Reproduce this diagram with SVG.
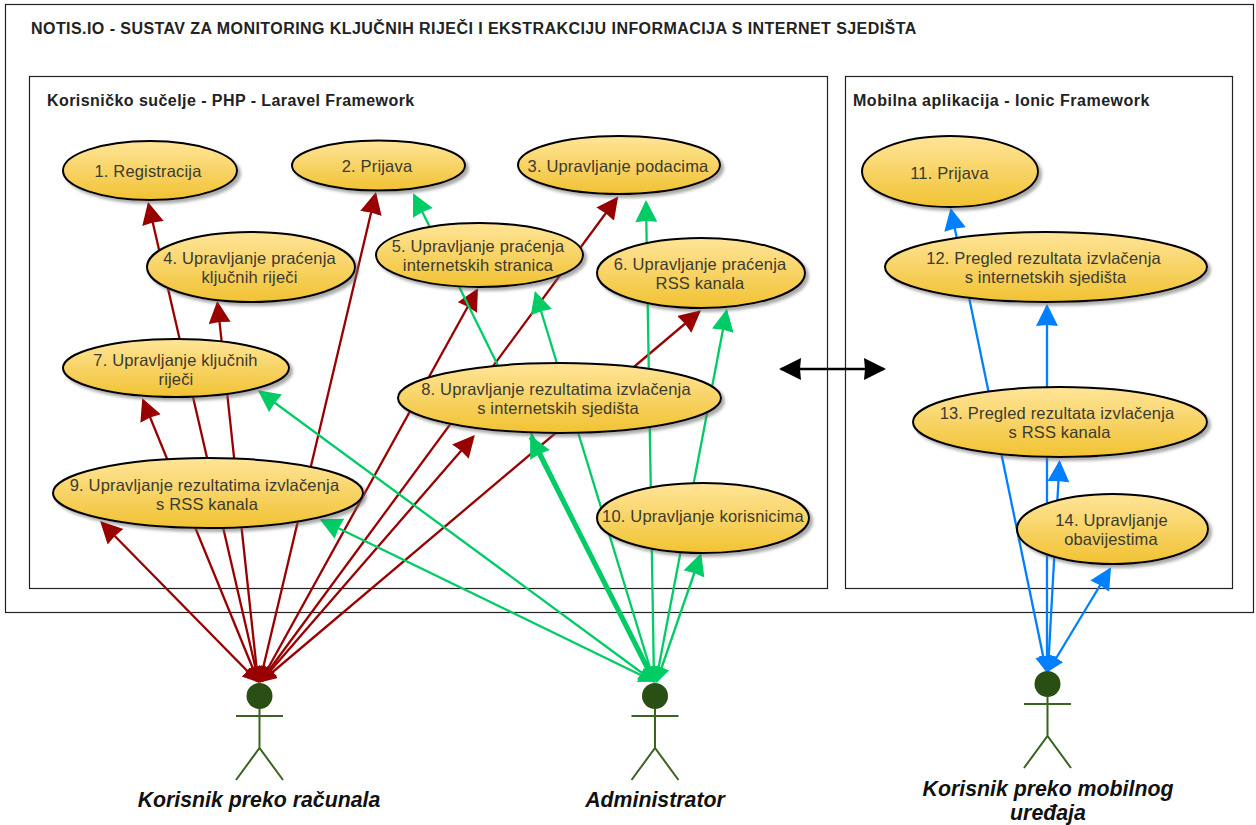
<svg xmlns="http://www.w3.org/2000/svg" width="1256" height="825" viewBox="0 0 1256 825">
<style>
text{font-family:"Liberation Sans",Arial,sans-serif}
.frame{fill:#fff;stroke:#222;stroke-width:1.2}
.t{font-size:16px;font-weight:bold;fill:#222;letter-spacing:.44px}
.uc{fill:url(#g);stroke:#000;stroke-width:2;filter:url(#s)}
.l{font-size:16.5px;fill:#3a3a30;text-anchor:middle;letter-spacing:.17px}
.c{fill:none;stroke-width:2.3}
.r{stroke:#990000;marker-start:url(#sr);marker-end:url(#mr)}
.gr{stroke:#00cc66;marker-start:url(#sg);marker-end:url(#mg)}
.b{stroke:#007fff;marker-start:url(#sb);marker-end:url(#mb)}
.k{stroke:#000;stroke-width:2.6;marker-start:url(#mk);marker-end:url(#mk)}
.a{fill:none;stroke:#3a6320;stroke-width:2}
.h{fill:#2a4f14}
.n{font-size:21.3px;font-weight:bold;font-style:italic;fill:#111;text-anchor:middle}
</style>
<defs>
<linearGradient id="g" x1="0" y1="0" x2="0" y2="1"><stop offset="0" stop-color="#ffe599"/><stop offset="1" stop-color="#f1c232"/></linearGradient>
<filter id="s" x="-10%" y="-15%" width="125%" height="135%"><feDropShadow dx="3" dy="3" stdDeviation="1.5" flood-color="#666" flood-opacity=".55"/></filter>
<marker id="mr" markerUnits="userSpaceOnUse" markerWidth="24" markerHeight="24" refX="20" refY="11" orient="auto-start-reverse"><path d="M0 0L22 11L0 22L1 11Z" fill="#990000"/></marker>
<marker id="mg" markerUnits="userSpaceOnUse" markerWidth="24" markerHeight="24" refX="20" refY="11" orient="auto-start-reverse"><path d="M0 0L22 11L0 22L1 11Z" fill="#00cc66"/></marker>
<marker id="mb" markerUnits="userSpaceOnUse" markerWidth="24" markerHeight="24" refX="20" refY="11" orient="auto-start-reverse"><path d="M0 0L22 11L0 22L1 11Z" fill="#007fff"/></marker>
<marker id="mk" markerUnits="userSpaceOnUse" markerWidth="24" markerHeight="24" refX="20" refY="11" orient="auto-start-reverse"><path d="M0 0L22 11L0 22L1 11Z" fill="#000"/></marker>
<marker id="sr" markerUnits="userSpaceOnUse" markerWidth="18" markerHeight="18" refX="14" refY="8" orient="auto-start-reverse"><path d="M0 0L16 8L0 16Z" fill="#990000"/></marker>
<marker id="sg" markerUnits="userSpaceOnUse" markerWidth="18" markerHeight="18" refX="14" refY="8" orient="auto-start-reverse"><path d="M0 0L16 8L0 16Z" fill="#00cc66"/></marker>
<marker id="sb" markerUnits="userSpaceOnUse" markerWidth="18" markerHeight="18" refX="14" refY="8" orient="auto-start-reverse"><path d="M0 0L16 8L0 16Z" fill="#007fff"/></marker>
</defs>
<rect width="1256" height="825" fill="#fff"/>
<g id="frames">
<rect class="frame" x="5.5" y="4.5" width="1248" height="608"/>
<text class="t" x="31" y="34">NOTIS.IO - SUSTAV ZA MONITORING KLJUČNIH RIJEČI I EKSTRAKCIJU INFORMACIJA S INTERNET SJEDIŠTA</text>
<rect class="frame" x="29.5" y="76.5" width="798" height="512"/>
<text class="t" x="47" y="106">Korisničko sučelje - PHP - Laravel Framework</text>
<rect class="frame" x="845.5" y="76.5" width="387" height="512"/>
<text class="t" x="853" y="106" style="letter-spacing:.52px">Mobilna aplikacija - Ionic Framework</text>
</g>
<g id="connectors">
<line class="c r" x1="258.5" y1="681" x2="148.5" y2="204"/>
<line class="c r" x1="260" y1="681" x2="375.5" y2="194"/>
<line class="c r" x1="261" y1="681" x2="617" y2="198"/>
<line class="c r" x1="258" y1="681" x2="217.5" y2="303"/>
<line class="c r" x1="261" y1="681" x2="477" y2="290"/>
<line class="c r" x1="262" y1="681" x2="699.5" y2="311.5"/>
<line class="c r" x1="258" y1="681" x2="143" y2="400"/>
<line class="c r" x1="261.5" y1="681" x2="473.5" y2="436.5"/>
<line class="c r" x1="257" y1="681" x2="101.5" y2="522.5"/>
<line class="c gr" x1="653" y1="681" x2="414" y2="195"/>
<line class="c gr" x1="654" y1="681" x2="646" y2="202"/>
<line class="c gr" x1="654" y1="681" x2="535.5" y2="293"/>
<line class="c gr" x1="656" y1="681" x2="726.5" y2="311"/>
<line class="c gr" x1="654" y1="681" x2="531" y2="437" style="stroke-width:5"/>
<line class="c gr" x1="653" y1="681" x2="259.5" y2="391.5"/>
<line class="c gr" x1="653" y1="681" x2="321.5" y2="520"/>
<line class="c gr" x1="657" y1="681" x2="700.5" y2="555"/>
<line class="c b" x1="1046" y1="670" x2="951" y2="210"/>
<line class="c b" x1="1047" y1="670" x2="1047" y2="306"/>
<line class="c b" x1="1048" y1="670" x2="1059.5" y2="462"/>
<line class="c b" x1="1049" y1="670" x2="1110" y2="569"/>
<line class="c k" x1="781" y1="369" x2="884" y2="369"/>
</g>
<g id="n1"><ellipse class="uc" cx="150" cy="170.5" rx="87" ry="29.5"/><text class="l" x="148" y="177">1. Registracija</text></g>
<g id="n2"><ellipse class="uc" cx="378.5" cy="165.5" rx="86.5" ry="25"/><text class="l" x="377" y="172">2. Prijava</text></g>
<g id="n3"><ellipse class="uc" cx="619" cy="165" rx="101" ry="29"/><text class="l" x="618" y="172">3. Upravljanje podacima</text></g>
<g id="n4"><ellipse class="uc" cx="251" cy="267" rx="104" ry="35"/><text class="l" x="249.5" y="264">4. Upravljanje praćenja</text><text class="l" x="249.5" y="283">ključnih riječi</text></g>
<g id="n5"><ellipse class="uc" cx="479.5" cy="255" rx="103.5" ry="32"/><text class="l" x="478" y="252">5. Upravljanje praćenja</text><text class="l" x="478" y="271">internetskih stranica</text></g>
<g id="n6"><ellipse class="uc" cx="701" cy="273" rx="104" ry="35"/><text class="l" x="700" y="270">6. Upravljanje praćenja</text><text class="l" x="700" y="289">RSS kanala</text></g>
<g id="n7"><ellipse class="uc" cx="176" cy="368" rx="113" ry="29"/><text class="l" x="175.5" y="366">7. Upravljanje ključnih</text><text class="l" x="176" y="385">riječi</text></g>
<g id="n8"><ellipse class="uc" cx="559.5" cy="398" rx="161.5" ry="35"/><text class="l" x="556" y="395">8. Upravljanje rezultatima izvlačenja</text><text class="l" x="558" y="414">s internetskih sjedišta</text></g>
<g id="n9"><ellipse class="uc" cx="208" cy="493" rx="155" ry="35"/><text class="l" x="204.5" y="491">9. Upravljanje rezultatima izvlačenja</text><text class="l" x="207" y="510">s RSS kanala</text></g>
<g id="n10"><ellipse class="uc" cx="703" cy="518" rx="106" ry="35"/><text class="l" x="703" y="522">10. Upravljanje korisnicima</text></g>
<g id="n11"><ellipse class="uc" cx="950" cy="171.5" rx="88" ry="35.5"/><text class="l" x="949.5" y="179">11. Prijava</text></g>
<g id="n12"><ellipse class="uc" cx="1046" cy="267" rx="161" ry="35"/><text class="l" x="1043.5" y="264">12. Pregled rezultata izvlačenja</text><text class="l" x="1045.5" y="283">s internetskih sjedišta</text></g>
<g id="n13"><ellipse class="uc" cx="1060" cy="422" rx="147" ry="35"/><text class="l" x="1057" y="419">13. Pregled rezultata izvlačenja</text><text class="l" x="1059.5" y="438">s RSS kanala</text></g>
<g id="n14"><ellipse class="uc" cx="1112.5" cy="529" rx="95.5" ry="35"/><text class="l" x="1111.5" y="526">14. Upravljanje</text><text class="l" x="1111" y="545">obavijestima</text></g>
<g id="actor1"><circle class="h" cx="259.5" cy="696" r="13"/><path class="a" d="M259.5 709V748M236 716H283M236 780L259.5 748L283 780"/><text class="n" x="259" y="807">Korisnik preko računala</text></g>
<g id="actor2"><circle class="h" cx="655" cy="696" r="13"/><path class="a" d="M655 709V748M631.5 716H678.5M631.5 780L655 748L678.5 780"/><text class="n" x="655" y="807">Administrator</text></g>
<g id="actor3"><circle class="h" cx="1047.5" cy="684" r="13"/><path class="a" d="M1047.5 697V736M1024 704H1071M1024 768L1047.5 736L1071 768"/><text class="n" x="1048" y="796">Korisnik preko mobilnog</text><text class="n" x="1048" y="820">uređaja</text></g>
</svg>
